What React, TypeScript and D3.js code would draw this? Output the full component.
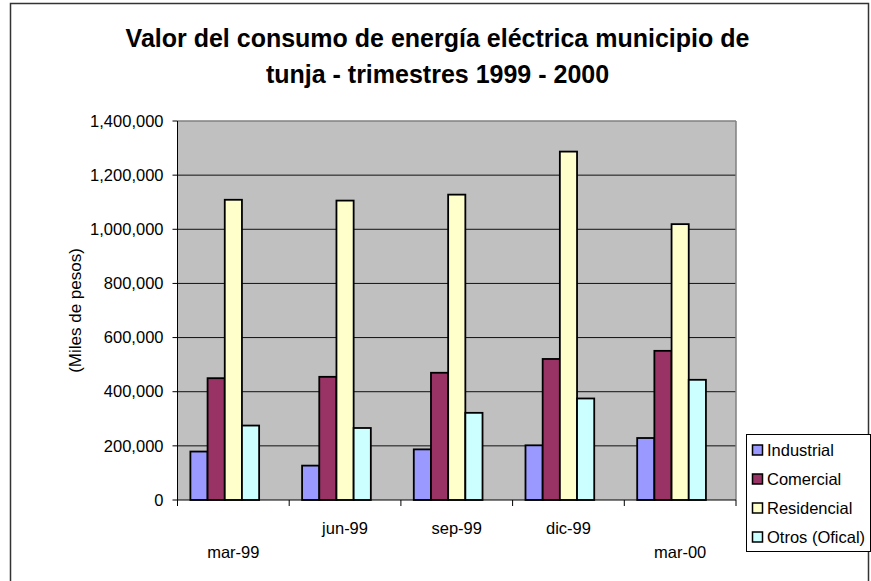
import React from "react";
import * as d3 from "d3";

const categories = ["mar-99", "jun-99", "sep-99", "dic-99", "mar-00"];
const seriesNames = ["Industrial", "Comercial", "Residencial", "Otros (Ofical)"];
const industrial = [179000, 127000, 187000, 202000, 229000];
const comercial = [450000, 455000, 470000, 521000, 551000];
const residencial = [1109000, 1106000, 1128000, 1287000, 1019000];
const otros = [275000, 266000, 322000, 375000, 444000];
const seriesValues = [industrial, comercial, residencial, otros];
const seriesColors = ["#9999FF", "#993366", "#FFFFCC", "#CCFFFF"];
const yTicks = [0, 200000, 400000, 600000, 800000, 1000000, 1200000, 1400000];
const titleLines = [
  "Valor del consumo de energía eléctrica municipio de",
  "tunja - trimestres 1999 - 2000",
];
const yAxisTitle = "(Miles de pesos)";

const W = 871;
const H = 581;
const FONT = "'Liberation Sans', Arial, Helvetica, sans-serif";

export default function App() {
  const plotL = 177.5;
  const plotR = 736;
  const plotT = 121;
  const plotB = 500;

  const x = d3.scaleBand<string>().domain(categories).range([plotL, plotR]).padding(0);
  const y = d3.scaleLinear().domain([0, 1400000]).range([plotB, plotT]);
  const bw = x.bandwidth();
  // Excel-like: 5 series slots with 150% gap width
  const slot = bw / 6.5;
  const off = slot * 0.75;
  const inner = d3
    .scaleBand<string>()
    .domain(seriesNames)
    .range([off, off + slot * seriesNames.length])
    .padding(0);

  const fmt = d3.format(",");

  return (
    <svg
      width={W}
      height={H}
      style={{ position: "absolute", left: 0, top: 0, background: "#fff" }}
      fontFamily={FONT}
    >
      <rect x={0} y={0} width={W} height={H} fill="#fff" />
      {/* outer chart border */}
      <rect x={10.5} y={3.5} width={858} height={600} fill="none" stroke="#333" strokeWidth={1.5} />

      {/* title */}
      {titleLines.map((t, i) => (
        <text
          key={i}
          x={437.5}
          y={47 + i * 36}
          textAnchor="middle"
          fontSize={25}
          fontWeight="bold"
          fill="#000"
        >
          {t}
        </text>
      ))}

      {/* plot background */}
      <rect x={plotL} y={plotT} width={plotR - plotL} height={plotB - plotT} fill="#C0C0C0" />

      {/* gridlines */}
      {yTicks.slice(1, -1).map((v) => (
        <line key={v} x1={plotL} x2={plotR} y1={y(v)} y2={y(v)} stroke="#111" strokeWidth={1} />
      ))}
      {/* plot border top/right */}
      <line x1={plotL} x2={plotR} y1={plotT} y2={plotT} stroke="#808080" strokeWidth={1.5} />
      <line x1={plotR} x2={plotR} y1={plotT} y2={plotB} stroke="#808080" strokeWidth={1.5} />

      {/* bars */}
      {categories.map((c, ci) => (
        <g key={c} transform={`translate(${x(c)},0)`}>
          {seriesNames.map((s, si) => {
            const v = seriesValues[si][ci];
            return (
              <rect
                key={s}
                x={inner(s)}
                y={y(v)}
                width={inner.bandwidth()}
                height={plotB - y(v)}
                fill={seriesColors[si]}
                stroke="#000"
                strokeWidth={1.8}
              />
            );
          })}
        </g>
      ))}

      {/* axes */}
      <line x1={plotL} x2={plotL} y1={plotT} y2={plotB} stroke="#000" strokeWidth={1} />
      <line x1={plotL} x2={plotR} y1={plotB} y2={plotB} stroke="#000" strokeWidth={1} />
      {yTicks.map((v) => (
        <g key={v}>
          <line x1={plotL - 5} x2={plotL} y1={y(v)} y2={y(v)} stroke="#000" strokeWidth={1} />
          <text
            x={plotL - 14}
            y={y(v)}
            dy="0.35em"
            textAnchor="end"
            fontSize={16.5}
            fill="#000"
          >
            {fmt(v)}
          </text>
        </g>
      ))}
      {categories.map((c) => (
        <line
          key={"t" + c}
          x1={x(c)!}
          x2={x(c)!}
          y1={plotB}
          y2={plotB + 6}
          stroke="#000"
          strokeWidth={1}
        />
      ))}
      <line x1={plotR} x2={plotR} y1={plotB} y2={plotB + 6} stroke="#000" strokeWidth={1} />
      {categories.map((c, i) => {
        const lower = i === 0 || i === categories.length - 1;
        return (
          <text
            key={"l" + c}
            x={x(c)! + bw / 2}
            y={lower ? 552 : 528}
            dy="0.35em"
            textAnchor="middle"
            fontSize={16.5}
            fill="#000"
          >
            {c}
          </text>
        );
      })}

      {/* y axis title */}
      <text
        transform={`translate(75,${(plotT + plotB) / 2}) rotate(-90)`}
        textAnchor="middle"
        dy="0.35em"
        fontSize={17}
        fill="#000"
      >
        {yAxisTitle}
      </text>

      {/* legend */}
      <rect x={746.5} y={434.5} width={124} height={117} fill="#fff" stroke="#000" strokeWidth={1} />
      {seriesNames.map((s, i) => {
        const cy = 450 + i * 29;
        return (
          <g key={s}>
            <rect
              x={752.5}
              y={cy - 5}
              width={10}
              height={10}
              fill={seriesColors[i]}
              stroke="#000"
              strokeWidth={1.5}
            />
            <text x={767} y={cy} dy="0.35em" fontSize={16.5} fill="#000">
              {s}
            </text>
          </g>
        );
      })}
    </svg>
  );
}
